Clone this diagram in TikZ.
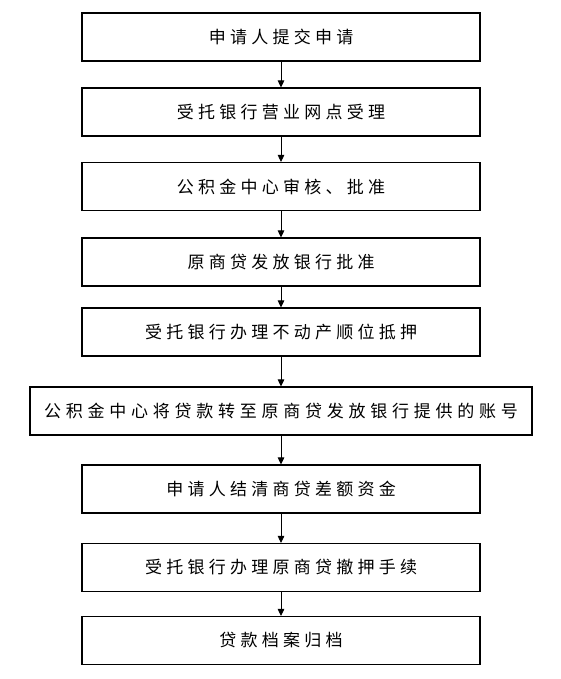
\documentclass[tikz,border=0pt]{standalone}
\usepackage{fontspec}
\newfontfamily\cjk[LetterSpace=25]{Noto Sans CJK SC}
\newfontfamily\cjkwide[LetterSpace=28]{Noto Sans CJK SC}
\usetikzlibrary{positioning,arrows.meta}
\begin{document}
\begin{tikzpicture}[x=1pt, y=1pt, node distance={75pt}, line width=1.1pt,
        main/.style = {draw, rectangle, minimum width=398pt, minimum height=48pt, font=\cjk\fontsize{17pt}{20pt}\selectfont},
        flow/.style = {-{Triangle[length=7pt,width=6.5pt]}, line width=0.9pt}]
        \useasboundingbox (0,0) rectangle (561,-679);
        \node[main] (1) at (281,-37) {申请人提交申请};
        \node[main] (2) [below of=1] {受托银行营业网点受理};
        \node[main] (3) [below of=2, node distance=74.5pt] {公积金中心审核、批准};
        \node[main] (4) [below of=3, node distance=75.5pt] {原商贷发放银行批准};
        \node[main] (5) [below of=4, node distance=70pt] {受托银行办理不动产顺位抵押};
        \node[main, minimum width=502pt, inner xsep=0pt, font=\cjkwide\fontsize{17pt}{20pt}\selectfont] (6) [below of=5, node distance=79pt] {公积金中心将贷款转至原商贷发放银行提供的账号};
        \node[main] (7) [below of=6, node distance=78pt] {申请人结清商贷差额资金};
        \node[main] (8) [below of=7, node distance=78.5pt] {受托银行办理原商贷撤押手续};
        \node[main] (9) [below of=8, node distance=73pt] {贷款档案归档};
        \draw[flow] (1) -- (2);
        \draw[flow] (2) -- (3);
        \draw[flow] (3) -- (4);
        \draw[flow] (4) -- (5);
        \draw[flow] (5) -- (6);
        \draw[flow] (6) -- (7);
        \draw[flow] (7) -- (8);
        \draw[flow] (8) -- (9);
    \end{tikzpicture}
\end{document}
